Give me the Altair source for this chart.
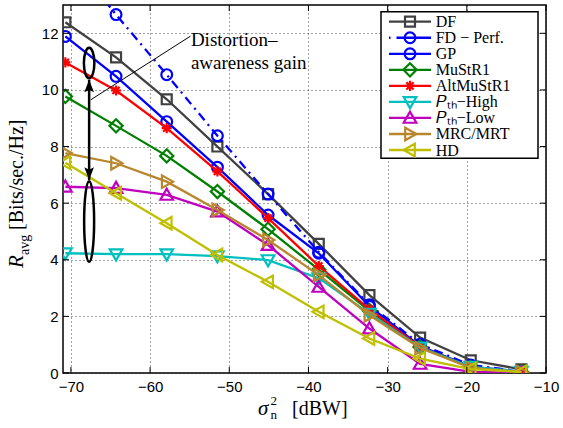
import altair as alt
import pandas as pd

# Noise power sweep (dBW) and average rate per scheme (Bits/sec./Hz)
noise_dbw = [-70.7, -64.3, -57.9, -51.5, -45.1, -38.7, -32.3, -25.9, -19.5, -13.1]

series_names = ["DF", "FD − Perf.", "GP", "MuStR1", "AltMuStR1",
                "𝑃ₜₕ−High", "𝑃ₜₕ−Low", "MRC/MRT", "HD"]

rate_df = [12.39, 11.15, 9.67, 8.00, 6.32, 4.56, 2.75, 1.25, 0.45, 0.13]
rate_fd_perf = [14.9, 12.66, 10.54, 8.38, 6.32, 4.27, 2.41, 1.02, 0.28, 0.06]
rate_gp = [11.89, 10.48, 8.88, 7.27, 5.58, 4.23, 2.36, 0.95, 0.22, 0.05]
rate_mustr1 = [9.77, 8.73, 7.67, 6.41, 5.08, 3.65, 2.20, 0.92, 0.20, 0.04]
rate_altmustr1 = [10.97, 9.98, 8.65, 7.12, 5.47, 3.78, 2.25, 0.92, 0.20, 0.04]
rate_pth_high = [4.23, 4.20, 4.20, 4.13, 3.99, 3.35, 2.10, 0.90, 0.22, 0.05]
rate_pth_low = [6.58, 6.53, 6.29, 5.70, 4.52, 3.04, 1.57, 0.32, 0.04, 0.02]
rate_mrc_mrt = [7.77, 7.41, 6.76, 5.76, 4.70, 3.46, 2.04, 0.88, 0.18, 0.03]
rate_hd = [7.43, 6.35, 5.29, 4.17, 3.22, 2.16, 1.22, 0.51, 0.14, 0.04]

rates = [rate_df, rate_fd_perf, rate_gp, rate_mustr1, rate_altmustr1,
         rate_pth_high, rate_pth_low, rate_mrc_mrt, rate_hd]

x_ticks = [-70, -60, -50, -40, -30, -20, -10]
y_ticks = [0, 2, 4, 6, 8, 10, 12]

# Annotation geometry (data coordinates)
gain_x = -67.7
arrow_top, arrow_bottom = 10.36, 6.82
upper_ellipse_y, lower_ellipse_y = 10.95, 5.35
pointer_from = (-54.9, 11.9)
pointer_to = (-67.5, 9.65)
note_x = -54.85
note_lines = ["Distortion–", "awareness gain"]
note_y = [11.76, 10.95]

# Styles
colors = ["#404040", "#0000ff", "#0000ff", "#008000", "#ff0000",
          "#00bfbf", "#bf00bf", "#b8862d", "#bfbf00"]
circle = "M0.9,0A0.9,0.9 0 1,1 -0.9,0A0.9,0.9 0 1,1 0.9,0Z"
markers = [
    "M-0.83,-0.83H0.83V0.83H-0.83Z",
    circle,
    circle,
    "M0,-1.1L1.1,0L0,1.1L-1.1,0Z",
    "M-0.85,0H0.85M0,-0.85V0.85M-0.6,-0.6L0.6,0.6M-0.6,0.6L0.6,-0.6",
    "M-1.05,-0.8H1.05L0,1.05Z",
    "M-1.05,0.8H1.05L0,-1.05Z",
    "M-0.8,-1.05V1.05L1.05,0Z",
    "M0.8,-1.05V1.05L-1.05,0Z",
]
fd_dash = [9, 5, 2, 5]

W, H = 483, 368
serif = "Liberation Serif"
sans = "Liberation Sans"

# Legend layout (pixels inside the plot area)
legend_box = dict(x=318, x2=475, y=6.7, y2=153.3)
legend_line_x = (326, 368)
legend_marker_x = 347
legend_text_x = 372.7
legend_first_row = 16.7
legend_row_step = 16.04

xs = alt.Scale(domain=[-71, -10], nice=False, zero=False)
ys = alt.Scale(domain=[0, 13], nice=False, zero=False)
grid_style = dict(grid=True, ticks=False, domain=False, gridColor="#222222",
                  gridDash=[1, 3], gridWidth=1, gridOpacity=0.85,
                  labelFont=sans, labelFontSize=15, labelColor="black", title=None)
X = alt.X("x:Q", scale=xs, axis=alt.Axis(values=x_ticks, format="d", labelFlush=False,
                                         labelPadding=6, **grid_style))
Y = alt.Y("y:Q", scale=ys, axis=alt.Axis(values=y_ticks, format="d", labelPadding=5,
                                         **grid_style))

one = pd.DataFrame({"k": [0]})
layers = []
for name, vals, col, mk in zip(series_names, rates, colors, markers):
    sub = pd.DataFrame({"x": noise_dbw, "y": vals})
    line_kw = dict(color=col, strokeWidth=2.3, clip=True)
    if name.startswith("FD"):
        line_kw["strokeDash"] = fd_dash
    layers.append(alt.Chart(sub).mark_line(**line_kw).encode(x=X, y=Y))
    layers.append(alt.Chart(sub).mark_point(shape=mk, size=144, filled=False, color=col,
                                            strokeWidth=2.2, opacity=1, clip=True)
                  .encode(x=X, y=Y))

# Double-headed arrow with the two ellipses
shaft = pd.DataFrame({"x": [gain_x], "y": [arrow_top], "y2": [arrow_bottom]})
layers.append(alt.Chart(shaft).mark_rule(color="black", strokeWidth=2.5)
              .encode(x=X, y=Y, y2="y2:Q"))
head_up = pd.DataFrame({"x": [gain_x], "y": [arrow_top]})
head_down = pd.DataFrame({"x": [gain_x], "y": [arrow_bottom]})
layers.append(alt.Chart(head_up).mark_point(filled=True, color="black", size=144, opacity=1,
                                            shape="M0,0L0.8,2.1L0,1.7L-0.8,2.1Z")
              .encode(x=X, y=Y))
layers.append(alt.Chart(head_down).mark_point(filled=True, color="black", size=144, opacity=1,
                                              shape="M0,0L0.8,-2.1L0,-1.7L-0.8,-2.1Z")
              .encode(x=X, y=Y))
ell_up = pd.DataFrame({"x": [gain_x], "y": [upper_ellipse_y]})
ell_low = pd.DataFrame({"x": [gain_x], "y": [lower_ellipse_y]})
layers.append(alt.Chart(ell_up).mark_point(filled=False, color="black", strokeWidth=2.5,
                                           opacity=1, size=930,
                                           shape="M0,-1A0.344,1 0 1,1 0,1A0.344,1 0 1,1 0,-1Z")
              .encode(x=X, y=Y))
layers.append(alt.Chart(ell_low).mark_point(filled=False, color="black", strokeWidth=2.5,
                                            opacity=1, size=6480,
                                            shape="M0,-1A0.124,1 0 1,1 0,1A0.124,1 0 1,1 0,-1Z")
              .encode(x=X, y=Y))

# Pointer line and note
ptr = pd.DataFrame({"x": [pointer_from[0]], "y": [pointer_from[1]],
                    "x2": [pointer_to[0]], "y2": [pointer_to[1]]})
layers.append(alt.Chart(ptr).mark_rule(color="black", strokeWidth=1)
              .encode(x=X, y=Y, x2="x2:Q", y2="y2:Q"))
note = pd.DataFrame({"x": [note_x, note_x], "y": note_y, "t": note_lines})
layers.append(alt.Chart(note).mark_text(align="left", baseline="middle", font=serif,
                                        fontSize=19, color="black")
              .encode(x=X, y=Y, text="t:N"))

# Inner tick marks on all four sides
xt = pd.DataFrame({"x": x_ticks})
yt = pd.DataFrame({"y": y_ticks})
tick_kw = dict(color="black", strokeWidth=1)
layers.append(alt.Chart(xt).mark_rule(**tick_kw).encode(x=X, y=alt.value(H), y2=alt.value(H - 6)))
layers.append(alt.Chart(xt).mark_rule(**tick_kw).encode(x=X, y=alt.value(0), y2=alt.value(6)))
layers.append(alt.Chart(yt).mark_rule(**tick_kw).encode(y=Y, x=alt.value(0), x2=alt.value(6)))
layers.append(alt.Chart(yt).mark_rule(**tick_kw).encode(y=Y, x=alt.value(W), x2=alt.value(W - 6)))

# Legend: framed box with one row per scheme
layers.append(alt.Chart(one).mark_rect(fill="white", stroke="black", strokeWidth=1.5)
              .encode(x=alt.value(legend_box["x"]), x2=alt.value(legend_box["x2"]),
                      y=alt.value(legend_box["y"]), y2=alt.value(legend_box["y2"])))
for i, (name, col, mk) in enumerate(zip(series_names, colors, markers)):
    row_y = legend_first_row + i * legend_row_step
    rule_kw = dict(color=col, strokeWidth=2.3)
    if name.startswith("FD"):
        rule_kw["strokeDash"] = [1.5, 6, 40, 6]
    layers.append(alt.Chart(one).mark_rule(**rule_kw)
                  .encode(x=alt.value(legend_line_x[0]), x2=alt.value(legend_line_x[1]),
                          y=alt.value(row_y)))
    layers.append(alt.Chart(one).mark_point(shape=mk, size=144, filled=False, color=col,
                                            strokeWidth=2.2, opacity=1)
                  .encode(x=alt.value(legend_marker_x), y=alt.value(row_y)))
    layers.append(alt.Chart(one).mark_text(text=name, align="left", baseline="middle",
                                           font=serif, fontSize=16, color="black")
                  .encode(x=alt.value(legend_text_x), y=alt.value(row_y + 0.5)))

# Axis titles
def label(txt, x, y, size, angle=0, italic=False):
    kw = dict(text=txt, align="left", baseline="alphabetic", font=serif,
              fontSize=size, color="black")
    if angle:
        kw["angle"] = angle
    if italic:
        kw["fontStyle"] = "italic"
    return alt.Chart(one).mark_text(**kw).encode(x=alt.value(x), y=alt.value(y))

layers += [
    label("σ", 195, 410, 21, italic=True),
    label("2", 207.5, 400, 13),
    label("n", 207.5, 414, 13),
    label("[dBW]", 229, 410, 20),
    label("R", -40, 263, 21, angle=270, italic=True),
    label("avg", -34, 250, 14, angle=270),
    label("[Bits/sec./Hz]", -40, 225, 20, angle=270),
]

chart = alt.layer(*layers).properties(
    width=W, height=H,
    autosize=alt.AutoSizeParams(type="none"),
    padding={"left": 63, "top": 5, "right": 17, "bottom": 55},
    background="white",
).configure_view(stroke="black", strokeWidth=1.5)

chart.save("out.html", embed_options={"renderer": "svg", "actions": False})
